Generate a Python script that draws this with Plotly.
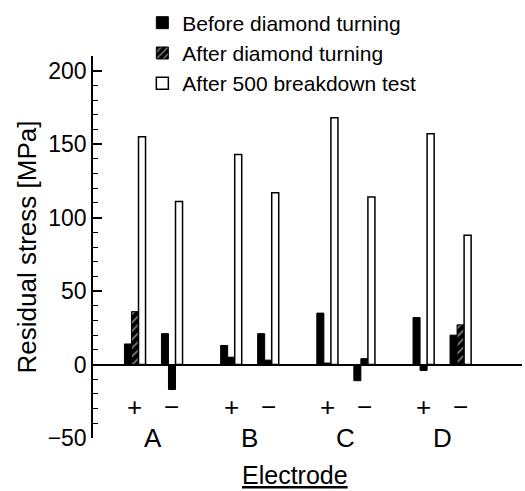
import plotly.graph_objects as go

# Data
electrodes = ["A", "B", "C", "D"]
polarity = ["+", "−"]
# x positions of each (electrode, polarity) sub-group, in sub-group units
sub_positions = [0, 1, 2.6, 3.6, 5.2, 6.2, 7.8, 8.8]
group_centers = [0.5, 3.1, 5.7, 8.3]

before_turning = [14, 21, 13, 21, 35, -11, 32, 20]
after_turning = [36, -17, 5, 3, 1, 4, -4, 27]
after_breakdown = [155, 111, 143, 117, 168, 114, 157, 88]

series_names = ["Before diamond turning", "After diamond turning", "After 500 breakdown test"]
# hatching as it appears on each bar of the second series (tiny bars print solid)
after_hatch = ["/", "", "", "", "", "", "", "/"]

FONT = "Liberation Sans, Arial, Helvetica, sans-serif"

fig = go.Figure()
fig.add_trace(go.Bar(x=sub_positions, y=before_turning, name=series_names[0],
                     marker=dict(color="black", line=dict(color="black", width=1))))
fig.add_trace(go.Bar(x=sub_positions, y=after_turning, name=series_names[1],
                     marker=dict(color="black", line=dict(color="black", width=1),
                                 pattern=dict(shape=after_hatch, bgcolor="black", fgcolor="white",
                                              size=6, solidity=0.3))))
fig.add_trace(go.Bar(x=sub_positions, y=after_breakdown, name=series_names[2],
                     marker=dict(color="white", line=dict(color="black", width=1.5))))

annotations = []
for i, xp in enumerate(sub_positions):
    annotations.append(dict(x=xp, y=-29, xref="x", yref="y", text=polarity[i % 2],
                            showarrow=False, font=dict(size=26, color="black", family=FONT)))
for name, xc in zip(electrodes, group_centers):
    annotations.append(dict(x=xc, y=-50, xref="x", yref="y", text=name, yanchor="middle",
                            showarrow=False, font=dict(size=26, color="black", family=FONT)))
annotations.append(dict(x=0.471, y=-0.097, xref="paper", yref="paper", text="<u>Electrode</u>",
                        yanchor="middle", showarrow=False,
                        font=dict(size=25, color="black", family=FONT)))

fig.update_layout(
    width=525, height=491,
    margin=dict(l=93, r=3, t=54, b=53),
    paper_bgcolor="white", plot_bgcolor="white",
    barmode="group", bargap=0.43, bargroupgap=0,
    font=dict(family=FONT, color="black"),
    showlegend=True,
    legend=dict(x=0.115, y=1.14, xanchor="left", yanchor="top",
                font=dict(size=21, color="black", family=FONT),
                bgcolor="rgba(0,0,0,0)", itemwidth=30, tracegroupgap=0),
    xaxis=dict(range=[-1.135, 10.46], showgrid=False, zeroline=False, showline=False,
               showticklabels=False, ticks=""),
    yaxis=dict(range=[-50, 210], showgrid=False, showline=True, linecolor="black", linewidth=1.5,
               zeroline=True, zerolinecolor="black", zerolinewidth=2,
               dtick=50, ticks="inside", ticklen=9, tickwidth=1.5,
               tickcolor="black", layer="above traces",
               tickfont=dict(size=23, color="black", family=FONT),
               minor=dict(dtick=10, ticks="inside", ticklen=5,
                          tickwidth=1.3, tickcolor="black"),
               title=dict(text="Residual stress [MPa]", standoff=4,
                          font=dict(size=26, color="black", family=FONT))),
    annotations=annotations,
)

fig.write_html("out.html")
